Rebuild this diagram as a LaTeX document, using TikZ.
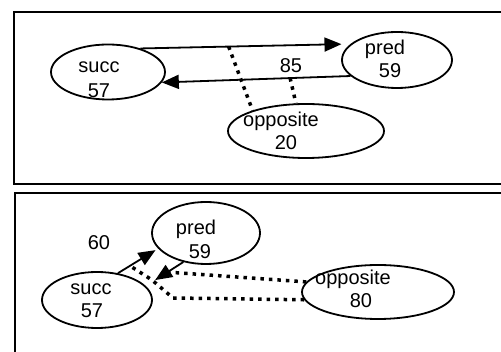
\documentclass[tikz,border=0pt]{standalone}
\usepackage{fontspec}
\setmainfont{Liberation Sans}
\usetikzlibrary{shapes.geometric,arrows.meta}
\begin{document}
\begin{tikzpicture}[x=1pt,y=-1pt,
  oval/.style={draw, ellipse, line width=1.8pt, inner sep=0pt},
  lbl/.style={anchor=base, inner sep=0pt, font=\fontsize{20}{24}\selectfont},
  link/.style={line width=1.8pt, -{Triangle[length=17pt,width=14pt]}},
  assoc/.style={line width=3.5pt, dash pattern=on 3.5pt off 5pt},
  panel/.style={line width=2pt}]
\useasboundingbox (0,0) rectangle (501,352);
\clip (0,0) rectangle (501,352);

% panel frames (open on the right)
\draw[panel] (14,12) rectangle (520,184);
\draw[panel] (15,193) rectangle (520,370);

% ---------- upper panel ----------
\node[oval, minimum width=114pt, minimum height=55pt] (succA) at (108,72) {};
\node[oval, minimum width=110pt, minimum height=56pt] (predA) at (397,60) {};
\node[oval, minimum width=156pt, minimum height=54pt] (oppA) at (306,131) {};

\node[lbl] (succAname) at (99,73) {succ};
\node[lbl] (succAval) at (99,98) {57};
\node[lbl] (predAname) at (385,55) {pred};
\node[lbl] (predAval) at (390,78) {59};
\node[lbl] (oppAname) at (281,127) {opposite};
\node[lbl] (oppAval) at (286,150) {20};
\node[lbl] (wA) at (291,73) {85};

\draw[link, shorten >=9pt] (succA.36) -- coordinate[pos=0.42] (mA1) (predA.161);
\draw[link] (predA.199) -- coordinate[pos=0.32] (mA2) (succA.-11.5);

\draw[assoc] (mA1) -- (oppA.159);
\draw[assoc] (mA2) -- (oppA.110);

% ---------- lower panel ----------
\node[oval, minimum width=108pt, minimum height=62pt] (predB) at (206,233) {};
\node[oval, minimum width=110pt, minimum height=56pt] (succB) at (97,300) {};
\node[oval, minimum width=152pt, minimum height=54pt] (oppB) at (378,292) {};

\node[lbl] (succBname) at (91,295) {succ};
\node[lbl] (succBval) at (92,318) {57};
\node[lbl] (predBname) at (196,235) {pred};
\node[lbl] (predBval) at (200,259) {59};
\node[lbl] (oppBname) at (353,285) {opposite};
\node[lbl] (oppBval) at (361,308) {80};
\node[lbl] (wB) at (99,250) {60};

\draw[link, shorten >=3pt] (succB.52) -- coordinate[pos=0.3] (mB1) (predB.198);
\draw[link, shorten >=11pt] (predB.232) -- coordinate[pos=0.42] (mB2) (succB.16);

\coordinate (bendB1) at (173,298);
\coordinate (bendB2) at (152,280);
\draw[assoc] (oppB.172) -- (mB2);
\draw[assoc] (oppB.186) -- (bendB1) -- (bendB2) -- (mB1);
\end{tikzpicture}
\end{document}
